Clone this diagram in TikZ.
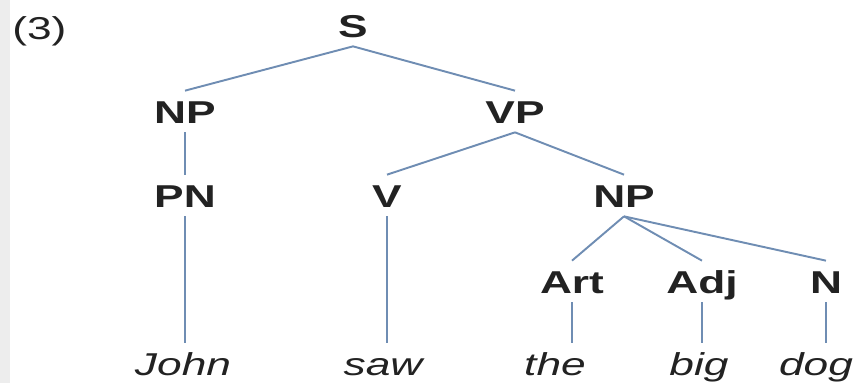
\documentclass[tikz,border=0pt]{standalone}
\usepackage{fontspec}
\setmainfont{Liberation Sans}[FakeStretch=1.4]
\usepackage{xcolor}
\definecolor{trink}{HTML}{222222}
\definecolor{trline}{HTML}{6F8DB3}
\definecolor{trstrip}{HTML}{EDEDED}
\usepackage{tikz}
\usetikzlibrary{positioning}
\tikzset{
  trcat/.style ={font=\fontsize{18}{20}\selectfont\bfseries, text=trink,
                 text height=0.46cm, text depth=0pt, inner xsep=2pt,
                 inner ysep=0.18cm, anchor=base},
  trword/.style={trcat, font=\fontsize{18}{20}\selectfont\itshape},
  trnum/.style ={trcat, font=\fontsize{18}{20}\selectfont, anchor=base west, inner xsep=0pt},
  tredge/.style={draw=trline, line width=1.1pt},
}
\begin{document}
\begin{tikzpicture}[x=0.02cm, y=-0.02cm]
  \fill[trstrip] (0,0) rectangle (10,383);
  \useasboundingbox (0,0) rectangle (862,383);
  \node[trnum] (num) at (12,39) {(3)};
  % categories
  \node[trcat] (s)   at (353,37)  {S};
  \node[trcat] (np1) at (185,123) {NP};
  \node[trcat] (vp)  at (515,123) {VP};
  \node[trcat] (pn)  at (185,207) {PN};
  \node[trcat] (v)   at (387,207) {V};
  \node[trcat] (np2) at (624,207) {NP};
  \node[trcat] (art) at (572,293) {Art};
  \node[trcat] (adj) at (702,293) {Adj};
  \node[trcat] (n)   at (826,293) {N};
  % words
  \node[trword] (john) at (183,375) {John};
  \node[trword] (saw)  at (383,375) {saw};
  \node[trword] (the)  at (555,375) {the};
  \node[trword] (big)  at (699,375) {big};
  \node[trword] (dog)  at (816,375) {dog};
  % branches
  \foreach \c in {np1,vp}{\draw[tredge] (s.south) -- (\c.north);}
  \draw[tredge] (np1.south) -- (pn.north);
  \foreach \c in {v,np2}{\draw[tredge] (vp.south) -- (\c.north);}
  \foreach \c in {art,adj,n}{\draw[tredge] (np2.south) -- (\c.north);}
  \draw[tredge] (pn.south)  -- (pn.south |- john.north);
  \draw[tredge] (v.south)   -- (v.south |- saw.north);
  \draw[tredge] (art.south) -- (art.south |- the.north);
  \draw[tredge] (adj.south) -- (adj.south |- big.north);
  \draw[tredge] (n.south)   -- (n.south |- dog.north);
\end{tikzpicture}
\end{document}
